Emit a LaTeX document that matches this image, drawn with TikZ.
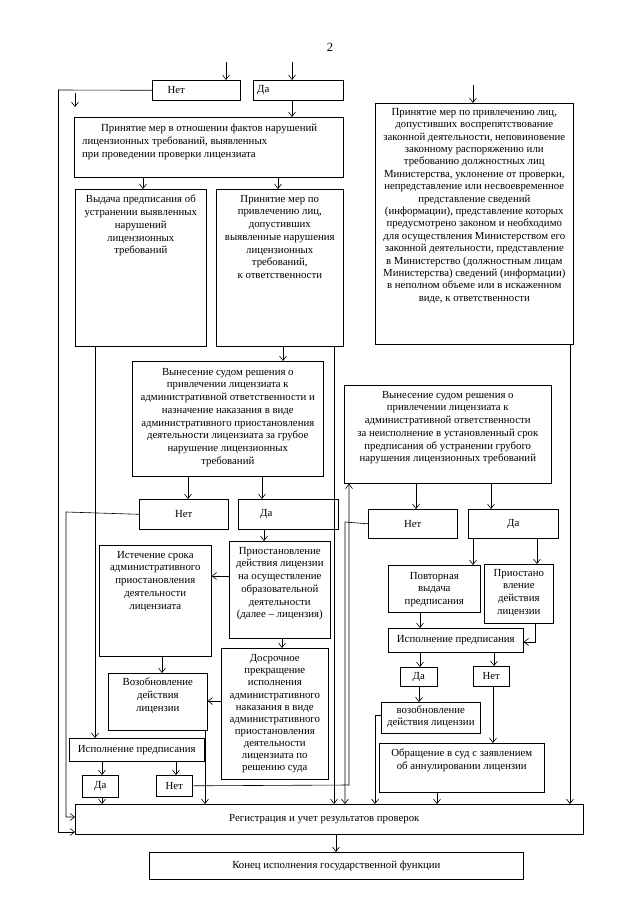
\documentclass[tikz,border=0pt]{standalone}
\usepackage{fontspec}
\setmainfont{Liberation Serif}
\usetikzlibrary{arrows.meta}
\newcommand\bx[5]{\node[bxs, minimum width=#4pt-#2pt, minimum height=#5pt-#3pt] (#1) at (#2,#3) {};}
\begin{document}
\begin{tikzpicture}[x=1pt,y=-1pt,
  bxs/.style={draw, line width=0.6pt, inner sep=0pt, anchor=north west},
  tx/.style={inner sep=0pt, align=center, font=\fontsize{10.8}{12.7}\selectfont},
  txd/.style={inner sep=0pt, align=center, font=\fontsize{10.8}{12.4}\selectfont},
  txq/.style={inner sep=0pt, align=center, font=\fontsize{10.8}{12.1}\selectfont},
  arr/.style={-{Straight Barb[length=4.5pt,width=7pt]}, line width=0.6pt},
  ln/.style={line width=0.6pt}]
\useasboundingbox (0,0) rectangle (640,905);

\node[font=\fontsize{12.5}{14}\selectfont] (pg) at (330,47) {2};

% ---------- boxes ----------
\bx{N1}{152}{80}{240}{100}
\bx{D1}{253}{80}{343}{100}
\bx{A}{74}{117}{343}{177}
\bx{B}{75}{189}{206}{346}
\bx{C}{216}{189}{343}{346}
\bx{D}{375}{103}{573}{344}
\bx{E}{132}{361}{323}{476}
\bx{F}{344}{385}{551}{483}
\bx{N2}{139}{499}{228}{529}
\bx{D2}{238}{499}{338}{529}
\bx{N3}{368}{509}{457}{538}
\bx{D3}{468}{509}{558}{538}
\bx{P}{229}{541}{330}{638}
\bx{I}{99}{545}{211}{656}
\bx{Q}{221}{648}{328}{779}
\bx{V}{108}{673}{207}{730}
\bx{L}{69}{738}{204}{761}
\bx{D5}{82}{775}{118}{797}
\bx{N5}{156}{775}{192}{796}
\bx{R1}{388}{565}{480}{612}
\bx{R2}{484}{564}{553}{623}
\bx{RI}{388}{628}{523}{652}
\bx{D4}{400}{667}{437}{686}
\bx{N4}{473}{666}{509}{686}
\bx{RV}{381}{702}{480}{733}
\bx{RO}{379}{743}{544}{792}
\bx{REG}{75}{804}{583}{834}
\bx{END}{149}{852}{523}{879}

% ---------- texts ----------
\node[tx] (N1t) at ([xshift=-20pt]N1.center) {Нет};
\node[tx] (D1t) at ([xshift=-35pt]D1.center) {Да};
\node[tx, align=left, anchor=north west] (At) at ([xshift=8pt,yshift=-7pt]A.north west)
 {\hspace*{19pt}Принятие мер в отношении фактов нарушений\\лицензионных требований, выявленных\\при проведении проверки лицензиата};
\node[tx, anchor=north] (Bt) at ([yshift=-6pt]B.north) {Выдача предписания об\\устранении выявленных\\нарушений\\лицензионных\\требований};
\node[tx, anchor=north] (Ct) at ([yshift=-6pt]C.north) {Принятие мер по\\привлечению лиц,\\допустивших\\выявленные нарушения\\лицензионных\\требований,\\к ответственности};
\node[txd, anchor=north] (Dt) at ([yshift=-5pt]D.north) {Принятие мер по привлечению лиц,\\допустивших воспрепятствование\\законной деятельности, неповиновение\\законному распоряжению или\\требованию должностных лиц\\Министерства, уклонение от проверки,\\непредставление или несвоевременное\\представление сведений\\(информации), представление которых\\предусмотрено законом и необходимо\\для осуществления Министерством его\\законной деятельности, представление\\в Министерство (должностным лицам\\Министерства) сведений (информации)\\в неполном объеме или в искаженном\\виде, к ответственности};
\node[tx, anchor=north] (Et) at ([yshift=-7pt]E.north) {Вынесение судом решения о\\привлечении лицензиата к\\административной ответственности и\\назначение наказания в виде\\административного приостановления\\деятельности лицензиата за грубое\\нарушение лицензионных\\требований};
\node[tx, anchor=north] (Ft) at ([yshift=-6pt]F.north) {Вынесение судом решения о\\привлечении лицензиата к\\административной ответственности\\за неисполнение в установленный срок\\предписания об устранении грубого\\нарушения лицензионных требований};
\node[tx] (N2t) at (N2.center) {Нет};
\node[tx] (D2t) at ([xshift=-22pt]D2.center) {Да};
\node[tx] (N3t) at (N3.center) {Нет};
\node[tx] (D3t) at (D3.center) {Да};
\node[tx, anchor=north] (Pt) at ([yshift=-6pt]P.north) {Приостановление\\действия лицензии\\на осуществление\\образовательной\\деятельности\\(далее – лицензия)};
\node[tx, anchor=north] (It) at ([yshift=-6pt]I.north) {Истечение срока\\административного\\приостановления\\деятельности\\лицензиата};
\node[txq] (Qt) at (Q.center) {Досрочное\\прекращение\\исполнения\\административного\\наказания в виде\\административного\\приостановления\\деятельности\\лицензиата по\\решению суда};
\node[tx, anchor=north] (Vt) at ([yshift=-5pt]V.north) {Возобновление\\действия\\лицензии};
\node[tx] (Lt) at (L.center) {Исполнение предписания};
\node[tx] (D5t) at (D5.center) {Да};
\node[tx] (N5t) at (N5.center) {Нет};
\node[tx, anchor=north] (R1t) at ([yshift=-7pt]R1.north) {Повторная\\выдача\\предписания};
\node[tx, anchor=north] (R2t) at ([yshift=-5pt]R2.north) {Приостано\\вление\\действия\\лицензии};
\node[tx] (RIt) at (RI.center) {Исполнение предписания};
\node[tx] (D4t) at (D4.center) {Да};
\node[tx] (N4t) at (N4.center) {Нет};
\node[tx] (RVt) at ([yshift=1pt]RV.center) {возобновление\\действия лицензии};
\node[tx, anchor=north] (ROt) at ([yshift=-6pt]RO.north) {Обращение в суд с заявлением\\об аннулировании лицензии};
\node[tx] (REGt) at ([xshift=-5pt]REG.center) {Регистрация и учет результатов проверок};
\node[tx] (ENDt) at (END.center) {Конец исполнения государственной функции};

% ---------- free ends ----------
\coordinate (in1) at (226,62);
\coordinate (in2) at (292,62);
\coordinate (in3) at (473,85);
\coordinate (sa1) at (75,93);
\coordinate (sa2) at (75,107);
\coordinate (lt1) at (58,90);
\coordinate (lt2) at (58,832);
\coordinate (l2a) at (66,512);
\coordinate (l2b) at (66,817);

% ---------- connectors ----------
\draw[arr] (in1) -- (in1 |- N1.north);
\draw[arr] (in2) -- (in2 |- D1.north);
\draw[arr] (in3) -- (in3 |- D.north);
\draw[ln] (N1.west) -- (lt1);
\draw[arr] (sa1) -- (sa2);
\draw[arr] (lt1) -- (lt2) -- (lt2 -| REG.west);
\draw[arr] (292,100) -- (292,117);
\draw[arr] (A.south -| 143,0) -- (B.north -| 143,0);
\draw[arr] (A.south -| 278,0) -- (C.north -| 278,0);
\draw[arr] (B.south -| 95,0) -- (L.north -| 95,0);
\draw[arr] (C.south -| 283,0) -- (E.north -| 283,0);
\draw[arr] (C.south -| 334,0) -- (REG.north -| 334,0);
\draw[arr] (D.south -| 570,0) -- (REG.north -| 570,0);
\draw[arr] (E.south -| 188,0) -- (N2.north -| 188,0);
\draw[arr] (E.south -| 262,0) -- (D2.north -| 262,0);
\draw[arr] (N2.west) -- (l2a) -- (l2b) -- (l2b -| REG.west);
\draw[arr] (D2.south -| 264,0) -- (P.north -| 264,0);
\draw[arr] (P.west |- 0,576) -- (I.east |- 0,576);
\draw[arr] (P.south -| 282,0) -- (Q.north -| 282,0);
\draw[arr] (I.south -| 162,0) -- (V.north -| 162,0);
\draw[arr] (Q.west |- 0,701) -- (V.east |- 0,701);
\draw[arr] (V.south -| 205,0) -- (REG.north -| 205,0);
\draw[arr] (L.south -| 102,0) -- (D5.north -| 102,0);
\draw[arr] (L.south -| 176,0) -- (N5.north -| 176,0);
\draw[arr] (D5.south -| 102,0) -- (REG.north -| 102,0);
\draw[arr] (N5.east) -- (349,785) -- (F.south -| 349,0);
\draw[arr] (F.south -| 416,0) -- (N3.north -| 416,0);
\draw[arr] (F.south -| 491,0) -- (D3.north -| 491,0);
\draw[arr] (N3.west) -- (345,522) -- (REG.north -| 345,0);
\draw[arr] (D3.south -| 473,0) -- (R1.north -| 473,0);
\draw[arr] (D3.south -| 537,0) -- (R2.north -| 537,0);
\draw[arr] (R1.south -| 420,0) -- (RI.north -| 420,0);
\draw[arr] (R2.south -| 535,0) -- (535,642) -- (RI.east |- 0,642);
\draw[arr] (RI.south -| 420,0) -- (D4.north -| 420,0);
\draw[arr] (RI.south -| 494,0) -- (N4.north -| 494,0);
\draw[arr] (D4.south -| 419,0) -- (RV.north -| 419,0);
\draw[arr] (RV.west |- 0,715) -- (375,715) -- (REG.north -| 375,0);
\draw[arr] (N4.south -| 493,0) -- (RO.north -| 493,0);
\draw[arr] (RO.south -| 437,0) -- (REG.north -| 437,0);
\draw[arr] (REG.south -| 336,0) -- (END.north -| 336,0);
\end{tikzpicture}
\end{document}
